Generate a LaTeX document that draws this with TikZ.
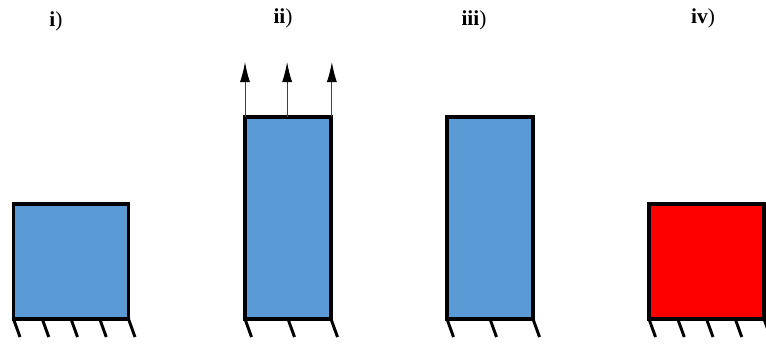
\documentclass[tikz,border=0pt]{standalone}
\usepackage{fontspec}
\setmainfont{Liberation Serif}
\usetikzlibrary{arrows.meta, positioning, calc}
\definecolor{mBlue}{HTML}{5B9BD5}
\definecolor{mPure}{HTML}{FF0000}
\begin{document}
\begin{tikzpicture}[x=0.75pt, y=-0.75pt,
      bar/.style={draw=black, line width=2.3pt, outer sep=0pt, inner sep=0pt, anchor=south west},
      wide/.style={bar, minimum width=86.25pt, minimum height=86.25pt},
      tall/.style={bar, minimum width=64.5pt, minimum height=151.5pt},
      hatch/.style={line width=2.2pt, black},
      pull/.style={-{Latex[length=15pt, width=7.5pt, black]}, line width=0.75pt, black!75},
      tag/.style={font=\fontsize{16}{19}\selectfont, inner sep=0pt}]
    \useasboundingbox (0,0) rectangle (766,343);
    \node[wide, fill=mBlue] (boxa) at (13.5,319) {};
    \node[tall, fill=mBlue] (boxb) at (245,319) {};
    \node[tall, fill=mBlue] (boxc) at (447,319) {};
    \node[wide, fill=mPure] (boxd) at (649,319) {};
    % supports
    \foreach \b in {boxa,boxd} \foreach \f in {0,0.25,0.5,0.75,1} {
      \coordinate (s) at ($(\b.south west)!\f!(\b.south east)$);
      \draw[hatch] (s) -- ++(6.5,18);
    }
    \foreach \b in {boxb,boxc} \foreach \f in {0,0.5,1} {
      \coordinate (s) at ($(\b.south west)!\f!(\b.south east)$);
      \draw[hatch] (s) -- ++(6.5,18);
    }
    % load
    \foreach \f in {0,0.49,1.01} {
      \coordinate (s) at ($(boxb.north west)!\f!(boxb.north east)$);
      \draw[pull] (s) -- ++(0,-55);
    }
    \node[tag] (laba) at (56,21) {\textbf{i})};
    \node[tag] (labb) at (283,18) {\textbf{ii})};
    \node[tag] (labc) at (474,20) {\textbf{iii})};
    \node[tag] (labd) at (703,18) {\textbf{iv})};
  \end{tikzpicture}
\end{document}
